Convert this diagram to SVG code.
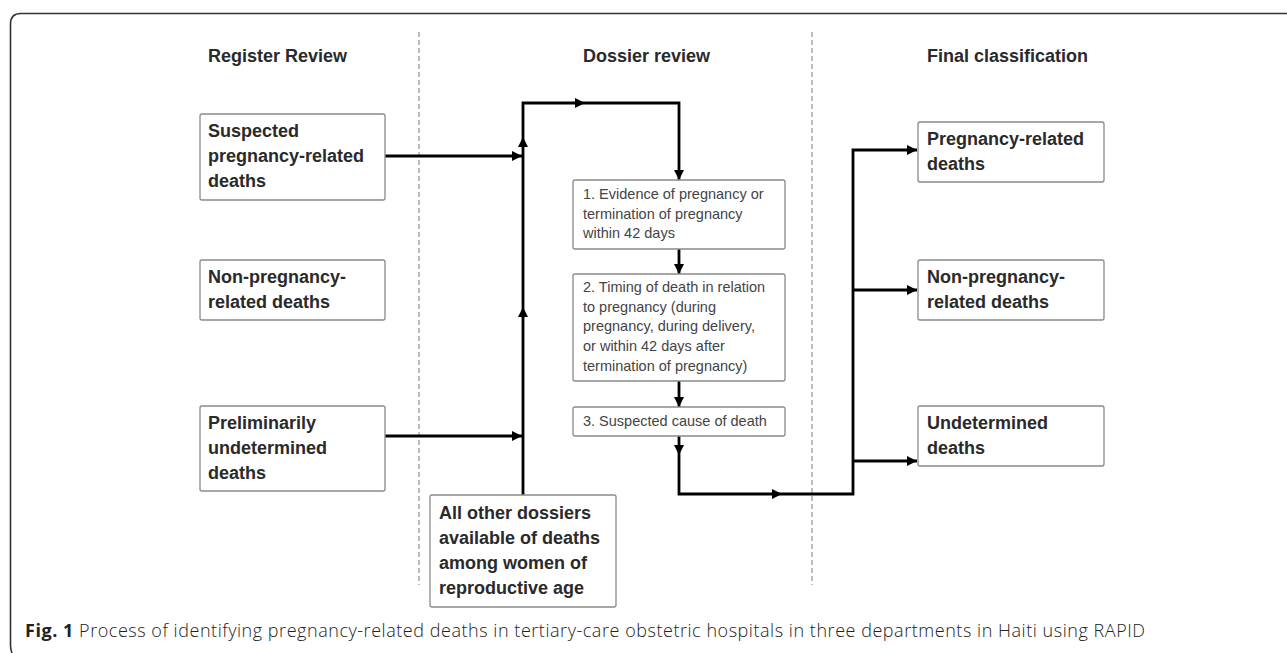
<svg xmlns="http://www.w3.org/2000/svg" width="1287" height="653" viewBox="0 0 1287 653">
<style>
.frame{fill:none;stroke:#333;stroke-width:1.6}
.box{fill:#fff;stroke:#8a8a8a;stroke-width:1.3}
.hd{font-family:"Liberation Sans",Arial,sans-serif;font-weight:bold;font-size:18px;fill:#2a2a2a}
.bt{font-family:"Liberation Sans",Arial,sans-serif;font-weight:bold;font-size:18px;fill:#2a2a2a}
.st{font-family:"Liberation Sans",Arial,sans-serif;font-size:14.5px;fill:#444}
.cap{font-family:"Open Sans",sans-serif;font-size:18px;fill:#222;font-weight:300}
.dash{stroke:#9a9a9a;stroke-width:1.3;stroke-dasharray:5 3;fill:none}
.cn{fill:none;stroke:#000;stroke-width:2.8;stroke-linejoin:miter;stroke-linecap:butt}
</style>
<defs>
<marker id="ah" viewBox="0 0 10 10" refX="10" refY="5" markerWidth="10" markerHeight="10" markerUnits="userSpaceOnUse" orient="auto">
<path d="M0,0 L10,5 L0,10 z" fill="#000"/>
</marker>
</defs>
<rect width="1287" height="653" fill="#fff"/>
<path class="frame" d="M12,653 Q10.5,650 10.5,645 V24 Q10.5,13.5 21,13.5 H1287"/>
<g id="headers">
<text class="hd" x="208" y="62">Register Review</text>
<text class="hd" x="583" y="62">Dossier review</text>
<text class="hd" x="927" y="62">Final classification</text>
</g>
<g id="dividers">
<line class="dash" x1="419" y1="32" x2="419" y2="585"/>
<line class="dash" x1="812" y1="32" x2="812" y2="585"/>
</g>
<g id="connectors">
<path class="cn" d="M385,156 H522" marker-end="url(#ah)"/>
<path class="cn" d="M385,436 H522" marker-end="url(#ah)"/>
<path class="cn" d="M523,495 V307" marker-end="url(#ah)"/>
<path class="cn" d="M523,307 V137" marker-end="url(#ah)"/>
<path class="cn" d="M523,137 V103 H585" marker-end="url(#ah)"/>
<path class="cn" d="M585,103 H679 V180" marker-end="url(#ah)"/>
<path class="cn" d="M679,249 V274" marker-end="url(#ah)"/>
<path class="cn" d="M679,381 V407" marker-end="url(#ah)"/>
<path class="cn" d="M679,436 V455" marker-end="url(#ah)"/>
<path class="cn" d="M679,455 V494 H782" marker-end="url(#ah)"/>
<path class="cn" d="M782,494 H853 V150 H917" marker-end="url(#ah)"/>
<path class="cn" d="M853,290 H917" marker-end="url(#ah)"/>
<path class="cn" d="M853,461 H917" marker-end="url(#ah)"/>
</g>
<g id="n-suspected">
<rect class="box" x="200" y="114" width="185" height="86" rx="2"/>
<text class="bt" x="208" y="137">Suspected</text>
<text class="bt" x="208" y="162">pregnancy-related</text>
<text class="bt" x="208" y="187">deaths</text>
</g>
<g id="n-nonpreg-left">
<rect class="box" x="200" y="260" width="185" height="60" rx="2"/>
<text class="bt" x="208" y="283">Non-pregnancy-</text>
<text class="bt" x="208" y="308">related deaths</text>
</g>
<g id="n-prelim">
<rect class="box" x="200" y="406" width="185" height="85" rx="2"/>
<text class="bt" x="208" y="429">Preliminarily</text>
<text class="bt" x="208" y="454">undetermined</text>
<text class="bt" x="208" y="479">deaths</text>
</g>
<g id="n-allother">
<rect class="box" x="430" y="495" width="186" height="112" rx="2"/>
<text class="bt" x="439" y="519">All other dossiers</text>
<text class="bt" x="439" y="544">available of deaths</text>
<text class="bt" x="439" y="569">among women of</text>
<text class="bt" x="439" y="594">reproductive age</text>
</g>
<g id="n-step1">
<rect class="box" x="573" y="180" width="212" height="69" rx="2"/>
<text class="st" x="583" y="199">1. Evidence of pregnancy or</text>
<text class="st" x="583" y="219">termination of pregnancy</text>
<text class="st" x="583" y="238">within 42 days</text>
</g>
<g id="n-step2">
<rect class="box" x="573" y="274" width="212" height="107" rx="2"/>
<text class="st" x="583" y="292">2. Timing of death in relation</text>
<text class="st" x="583" y="312">to pregnancy (during</text>
<text class="st" x="583" y="331">pregnancy, during delivery,</text>
<text class="st" x="583" y="351">or within 42 days after</text>
<text class="st" x="583" y="371">termination of pregnancy)</text>
</g>
<g id="n-step3">
<rect class="box" x="573" y="407" width="212" height="29" rx="2"/>
<text class="st" x="583" y="426">3. Suspected cause of death</text>
</g>
<g id="n-pregrel">
<rect class="box" x="918" y="122" width="186" height="60" rx="2"/>
<text class="bt" x="927" y="145">Pregnancy-related</text>
<text class="bt" x="927" y="170">deaths</text>
</g>
<g id="n-nonpreg-right">
<rect class="box" x="918" y="260" width="186" height="60" rx="2"/>
<text class="bt" x="927" y="283">Non-pregnancy-</text>
<text class="bt" x="927" y="308">related deaths</text>
</g>
<g id="n-undet">
<rect class="box" x="918" y="406" width="186" height="60" rx="2"/>
<text class="bt" x="927" y="429">Undetermined</text>
<text class="bt" x="927" y="454">deaths</text>
</g>
<text class="cap" x="25" y="637" textLength="1120" lengthAdjust="spacing"><tspan font-weight="bold">Fig. 1</tspan> Process of identifying pregnancy-related deaths in tertiary-care obstetric hospitals in three departments in Haiti using RAPID</text>
</svg>
